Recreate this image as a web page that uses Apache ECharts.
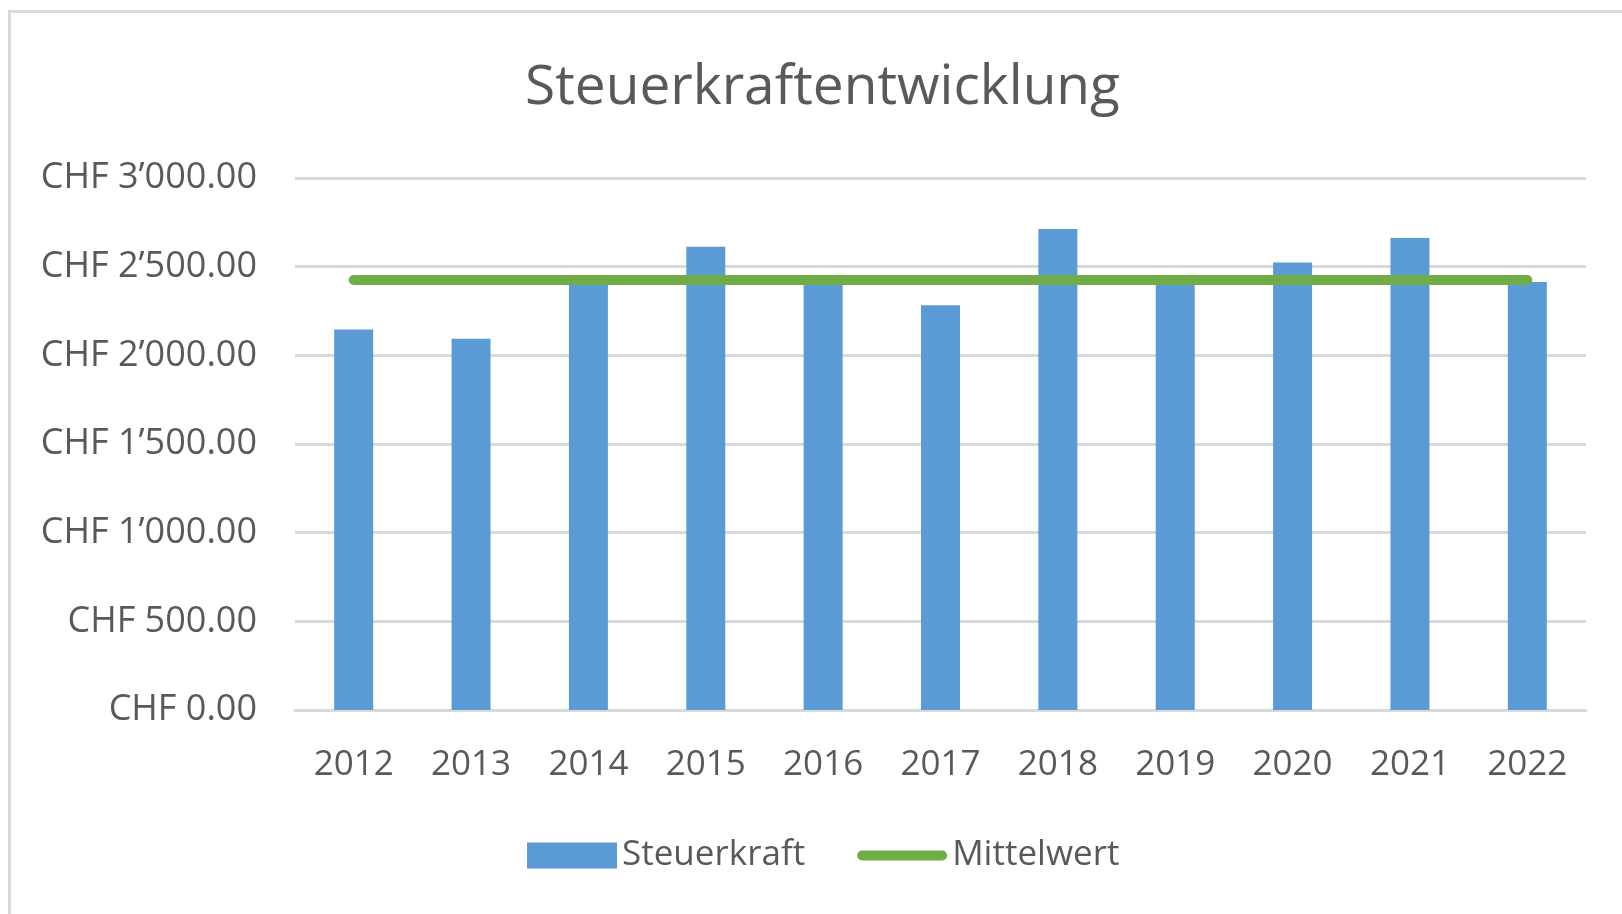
<!DOCTYPE html>
<html>
<head>
<meta charset="utf-8">
<script src="https://cdn.jsdelivr.net/npm/echarts@6/dist/echarts.min.js"></script>
<style>
  html, body { margin: 0; padding: 0; background: #fff; }
  #chart { width: 1622px; height: 914px; }
</style>
</head>
<body>
<div id="chart"></div>
<script>
var years = ['2012', '2013', '2014', '2015', '2016', '2017', '2018', '2019', '2020', '2021', '2022'];
var steuerkraft = [2145, 2093, 2410, 2613, 2410, 2283, 2713, 2410, 2523, 2661, 2413];
var mittelwert = [2425, 2425, 2425, 2425, 2425, 2425, 2425, 2425, 2425, 2425, 2425];

var font = '"Open Sans", "Noto Sans", sans-serif';
var grey = '#595959';

function chf(v) {
    var s = String(Math.round(v)).replace(/\B(?=(\d{3})+(?!\d))/g, '\u2019');
    return 'CHF ' + s + '.00';
}

var myChart = echarts.init(document.getElementById('chart'));
var option = {
    backgroundColor: '#fff',
    animation: false,
    graphic: [
        {
            type: 'rect',
            shape: { x: 9.5, y: 11.5, width: 1700, height: 1000 },
            style: { fill: 'none', stroke: '#d9d9d9', lineWidth: 3 },
            silent: true
        }
    ],
    title: {
        text: 'Steuerkraftentwicklung',
        left: 520,
        top: 56,
        textStyle: { fontFamily: font, fontSize: 55, fontWeight: 'normal', color: grey }
    },
    legend: {
        left: 522,
        top: 833,
        itemWidth: 90,
        itemHeight: 26,
        itemGap: 52,
        textStyle: { fontFamily: font, fontSize: 35, color: grey },
        data: [
            { name: 'Steuerkraft', icon: 'rect' },
            {
                name: 'Mittelwert',
                // rounded thick stroke in the middle of the icon box
                icon: 'path://M0,0M92,26M5,8L87,8A5,5,0,0,1,87,18L5,18A5,5,0,0,1,5,8Z',
                itemStyle: { color: '#70ad47', borderWidth: 0 }
            }
        ]
    },
    grid: {
        left: 295,
        right: 36,
        top: 178,
        bottom: 204
    },
    xAxis: {
        type: 'category',
        data: years,
        axisTick: { show: false },
        axisLine: { lineStyle: { color: '#d9d9d9', width: 3 } },
        axisLabel: { fontFamily: font, fontSize: 35, color: grey, margin: 38 }
    },
    yAxis: {
        type: 'value',
        min: 0,
        max: 3000,
        interval: 500,
        axisLine: { show: false },
        axisTick: { show: false },
        splitLine: { lineStyle: { color: '#d9d9d9', width: 3 } },
        axisLabel: {
            fontFamily: font, fontSize: 36, color: grey, margin: 38,
            formatter: chf
        }
    },
    series: [
        {
            name: 'Steuerkraft',
            type: 'bar',
            data: steuerkraft,
            barWidth: 39,
            itemStyle: { color: '#5b9bd5' }
        },
        {
            name: 'Mittelwert',
            type: 'line',
            data: mittelwert,
            symbol: 'none',
            lineStyle: { color: '#70ad47', width: 10, cap: 'round' },
            itemStyle: { color: '#70ad47' }
        }
    ]
};
myChart.setOption(option);
window.onresize = function () {
    myChart.resize();
};
</script>
</body>
</html>
